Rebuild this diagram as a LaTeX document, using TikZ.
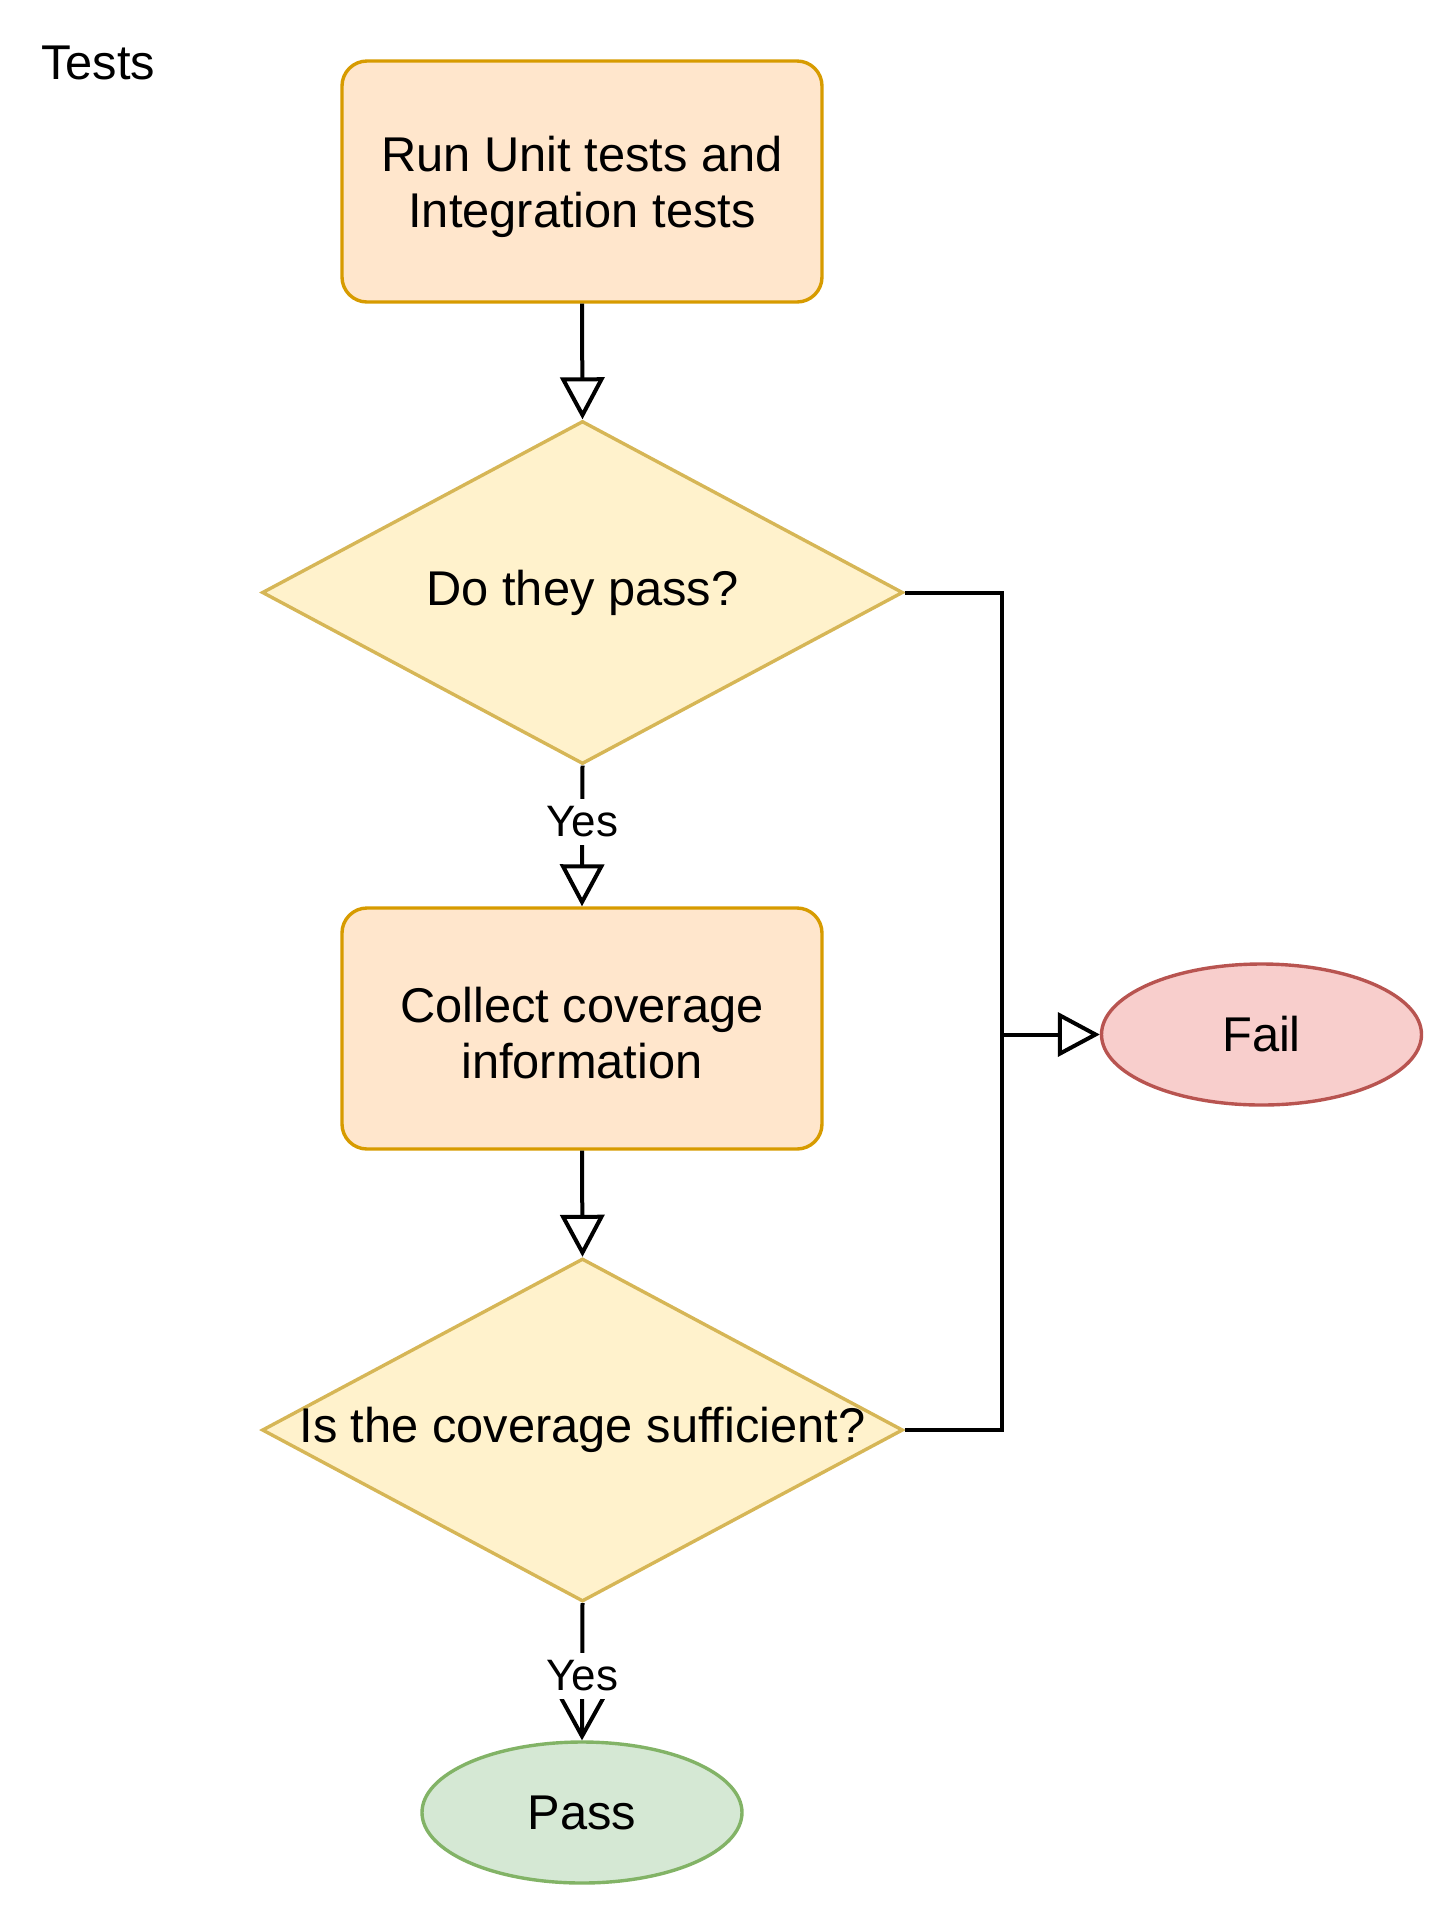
\documentclass[tikz,border=0pt]{standalone}
\usepackage{fontspec}
\setmainfont{Liberation Sans}
\usetikzlibrary{shapes.geometric,arrows.meta}
\definecolor{boxfill}{HTML}{FFE6CC}
\definecolor{boxline}{HTML}{D79B00}
\definecolor{dfill}{HTML}{FFF2CC}
\definecolor{dline}{HTML}{D6B656}
\definecolor{failfill}{HTML}{F8CECC}
\definecolor{failline}{HTML}{B85450}
\definecolor{passfill}{HTML}{D5E8D4}
\definecolor{passline}{HTML}{82B366}
\tikzset{
  txt/.style={font=\fontsize{24.4}{28}\selectfont},
  stepbox/.style={draw=boxline, fill=boxfill, line width=1.7pt, rounded corners=12.5pt,
    minimum width=240pt, minimum height=120.5pt, inner sep=0pt},
  boxtext/.style={txt, align=center, yshift=-2.5pt},
  decision/.style={draw=dline, fill=dfill, line width=1.7pt, shape=diamond,
    minimum width=320.5pt, minimum height=171.5pt, inner sep=0pt},
  term/.style={ellipse, line width=1.7pt, minimum width=160pt, minimum height=70.5pt, inner sep=0pt, txt},
  conn/.style={line width=2pt, black},
  tri/.style={conn, -{Triangle[open, length=21pt, width=22pt]}},
  barb/.style={conn, -{Straight Barb[length=19pt, width=21pt]}},
  yeslbl/.style={fill=white, inner xsep=1pt, inner ysep=4pt, font=\fontsize{22}{26}\selectfont},
}
\begin{document}
\begin{tikzpicture}[x=0.5pt, y=-0.5pt]
\useasboundingbox (0,0) rectangle (1444,1908);
\node[txt] (title) at (98,63) {Tests};
\node[stepbox, label={[boxtext]center:{Run Unit tests and\\Integration tests}}] (b1) at (582,181.5) {};
\node[decision, label={[txt]center:Do they pass?}] (d1) at (582.5,592.5) {};
\node[stepbox, label={[boxtext]center:{Collect coverage\\information}}] (b2) at (582,1028.5) {};
\node[decision, label={[txt]center:Is the coverage sufficient?}] (d2) at (582.5,1430) {};
\node[term, draw=passline, fill=passfill] (pass) at (582,1812.5) {Pass};
\node[term, draw=failline, fill=failfill] (fail) at (1261.5,1034.5) {Fail};
\coordinate (jn) at (1002,1034.5);
\draw[tri] (b1.south) -- (d1.north);
\draw[tri] (d1.south) -- node[yeslbl, pos=0.4] {Yes} (b2.north);
\draw[tri] (b2.south) -- (d2.north);
\draw[barb] (d2.south) -- node[yeslbl, pos=0.53] {Yes} (pass.north);
\draw[conn] (d1.east) -| (jn);
\draw[conn] (d2.east) -| (jn);
\draw[tri] (jn) -- (fail.west);
\end{tikzpicture}
\end{document}
